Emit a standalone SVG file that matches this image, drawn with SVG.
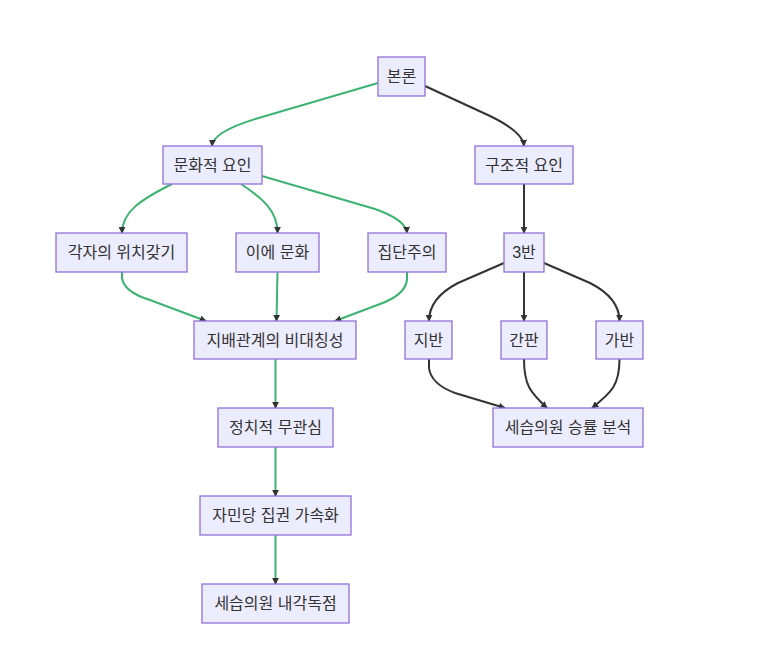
<svg xmlns="http://www.w3.org/2000/svg" width="763" height="665" viewBox="0 0 763 665">
<style>
.node rect{fill:#ECECFF;stroke:#9370DB;stroke-width:1.3}
.node text{font-family:"Liberation Sans","Noto Sans CJK KR",sans-serif;font-size:16px;fill:#333;text-anchor:middle;dominant-baseline:central}
.e{fill:none;stroke-width:2}
.g{stroke:#3cb371}
.k{stroke:#333}
</style>
<defs>
<marker id="arr" viewBox="0 0 10 10" refX="9" refY="5" markerUnits="userSpaceOnUse" markerWidth="7" markerHeight="7" orient="auto">
<path d="M0,0 L10,5 L0,10 z" fill="#333"/>
</marker>
</defs>
<rect width="763" height="665" fill="#fff"/>
<g id="connectors">
<path class="e g" d="M378,83 L262,117 Q213,131 212,146" marker-end="url(#arr)"/>
<path class="e k" d="M425,86 L490,116 Q523,132 524,146" marker-end="url(#arr)"/>
<path class="e g" d="M172,184 C140,200 122,212 122,233" marker-end="url(#arr)"/>
<path class="e g" d="M241,184 C265,200 277.5,212 277.5,233" marker-end="url(#arr)"/>
<path class="e g" d="M262,176 L375,209 Q406,220 407,233" marker-end="url(#arr)"/>
<path class="e k" d="M524,184 L524,233" marker-end="url(#arr)"/>
<path class="e g" d="M122,272 L122,278 Q124,292 150,300 L206,321" marker-end="url(#arr)"/>
<path class="e g" d="M277.5,272 L276.5,321" marker-end="url(#arr)"/>
<path class="e g" d="M407,272 L407,280 Q405,295 380,304 L335,321" marker-end="url(#arr)"/>
<path class="e g" d="M275.5,359 L275.5,408" marker-end="url(#arr)"/>
<path class="e g" d="M275.5,447 L275.5,496" marker-end="url(#arr)"/>
<path class="e g" d="M275.5,535 L275.5,584" marker-end="url(#arr)"/>
<path class="e k" d="M504,263 L458,283 Q429,298 429,321" marker-end="url(#arr)"/>
<path class="e k" d="M524,272 L524,321" marker-end="url(#arr)"/>
<path class="e k" d="M544,263 L590,283 Q619.5,298 619.5,321" marker-end="url(#arr)"/>
<path class="e k" d="M429,359 L429,368 Q431,384 455,393 L505,408" marker-end="url(#arr)"/>
<path class="e k" d="M524,359 C524,385 530,392 547,408" marker-end="url(#arr)"/>
<path class="e k" d="M619.5,359 C619.5,385 612,392 592,408" marker-end="url(#arr)"/>
</g>
<g id="n-bonron" class="node"><rect x="378" y="57" width="47" height="39"/><text x="401.5" y="76.5">본론</text></g>
<g id="n-munhwa" class="node"><rect x="163" y="146" width="99" height="38"/><text x="212.5" y="165">문화적 요인</text></g>
<g id="n-gujo" class="node"><rect x="475" y="146" width="98" height="38"/><text x="524" y="165">구조적 요인</text></g>
<g id="n-gakja" class="node"><rect x="56" y="233" width="131" height="39"/><text x="121.5" y="252.5">각자의 위치갖기</text></g>
<g id="n-ie" class="node"><rect x="236" y="233" width="83" height="39"/><text x="277.5" y="252.5">이에 문화</text></g>
<g id="n-jipdan" class="node"><rect x="368" y="233" width="78" height="39"/><text x="407" y="252.5">집단주의</text></g>
<g id="n-3ban" class="node"><rect x="504" y="233" width="40" height="39"/><text x="524" y="252.5">3반</text></g>
<g id="n-jibae" class="node"><rect x="194" y="321" width="162" height="38"/><text x="275" y="340">지배관계의 비대칭성</text></g>
<g id="n-jiban" class="node"><rect x="405" y="321" width="47" height="38"/><text x="428.5" y="340">지반</text></g>
<g id="n-ganpan" class="node"><rect x="501" y="321" width="46" height="38"/><text x="524" y="340">간판</text></g>
<g id="n-gaban" class="node"><rect x="596" y="321" width="47" height="38"/><text x="619.5" y="340">가반</text></g>
<g id="n-jeongchi" class="node"><rect x="218" y="408" width="115" height="39"/><text x="275.5" y="427.5">정치적 무관심</text></g>
<g id="n-seungnyul" class="node"><rect x="493" y="408" width="150" height="39"/><text x="568" y="427.5">세습의원 승률 분석</text></g>
<g id="n-jamin" class="node"><rect x="200" y="496" width="151" height="39"/><text x="275.5" y="515.5">자민당 집권 가속화</text></g>
<g id="n-naegak" class="node"><rect x="202" y="584" width="147" height="39"/><text x="275.5" y="603.5">세습의원 내각독점</text></g>
</svg>
